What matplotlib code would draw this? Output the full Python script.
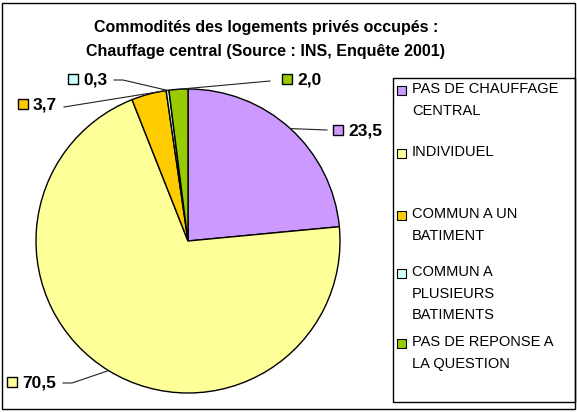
import matplotlib.pyplot as plt
from matplotlib.patches import Rectangle
import numpy as np

plt.rcParams["font.family"] = ["Liberation Sans", "DejaVu Sans"]

# data
categories = [
    "PAS DE CHAUFFAGE\nCENTRAL",
    "INDIVIDUEL",
    "COMMUN A UN\nBATIMENT",
    "COMMUN A\nPLUSIEURS\nBATIMENTS",
    "PAS DE REPONSE A\nLA QUESTION",
]
values = [23.5, 70.5, 3.7, 0.3, 2.0]
value_labels = ["23,5", "70,5", "3,7", "0,3", "2,0"]
colors = ["#CC99FF", "#FFFF99", "#FFCC00", "#CCFFFF", "#99CC00"]

title = "Commodités des logements privés occupés :\nChauffage central (Source : INS, Enquête 2001)"

# layout (pixel coords, y down)
W, H = 577, 412
center = (188, 241)
radius = 152
# label square centre, and the point where the leader line leaves the label
label_pos = [(338, 130), (12, 382), (23, 104), (73, 79), (287, 79)]
leader_start = [(327, 130), (63, 383), (64, 107), (114, 80), (270, 81)]
knee_dx = [0, 9, 0, 9, 0]
anchor_frac = [0.5, 0.5, 1.0, 0.5, 0.5]
legend_top = [90, 153, 215, 273, 343]

fig = plt.figure(figsize=(W / 100, H / 100), dpi=100)
ax = fig.add_axes([0, 0, 1, 1])
ax.set_xlim(0, W)
ax.set_ylim(H, 0)
ax.axis("off")

wedges, _ = ax.pie(
    values, colors=colors, center=center, radius=radius,
    startangle=-90, counterclock=True,
    wedgeprops=dict(edgecolor="black", linewidth=1.0),
)
ax.set_xlim(0, W)
ax.set_ylim(H, 0)
ax.set_aspect("auto")

# value labels with leader lines
for w, lab, col, (px, py), (sx, sy), kdx, fr in zip(
    wedges, value_labels, colors, label_pos, leader_start, knee_dx, anchor_frac
):
    ang = np.deg2rad(w.theta1 + fr * (w.theta2 - w.theta1))
    ax_x = center[0] + radius * np.cos(ang)
    ax_y = center[1] + radius * np.sin(ang)
    ax.plot([sx, sx + kdx, ax_x], [sy, sy, ax_y], color="#222222", lw=0.8)
    ax.add_patch(Rectangle((px - 5, py - 5), 10, 10, facecolor=col,
                           edgecolor="black", lw=1.0))
    ax.text(px + 10, py + 1, lab, fontsize=12.5, fontweight="bold",
            ha="left", va="center")

ax.text(266, 39, title, fontsize=11.5, fontweight="bold", ha="center",
        va="center", linespacing=1.75)

# legend
ax.add_patch(Rectangle((393, 78), 182, 324, facecolor="white",
                       edgecolor="black", lw=1.0))
for cat, col, top in zip(categories, colors, legend_top):
    ax.add_patch(Rectangle((397, top - 4.5), 9, 9, facecolor=col,
                           edgecolor="black", lw=0.8))
    ax.text(412, top - 8, cat, fontsize=10.5, ha="left", va="top",
            linespacing=1.7)

# outer frame
ax.add_patch(Rectangle((2, 3), 573, 406, fill=False, edgecolor="black", lw=1.0))

fig.savefig("out.png", dpi=100)
